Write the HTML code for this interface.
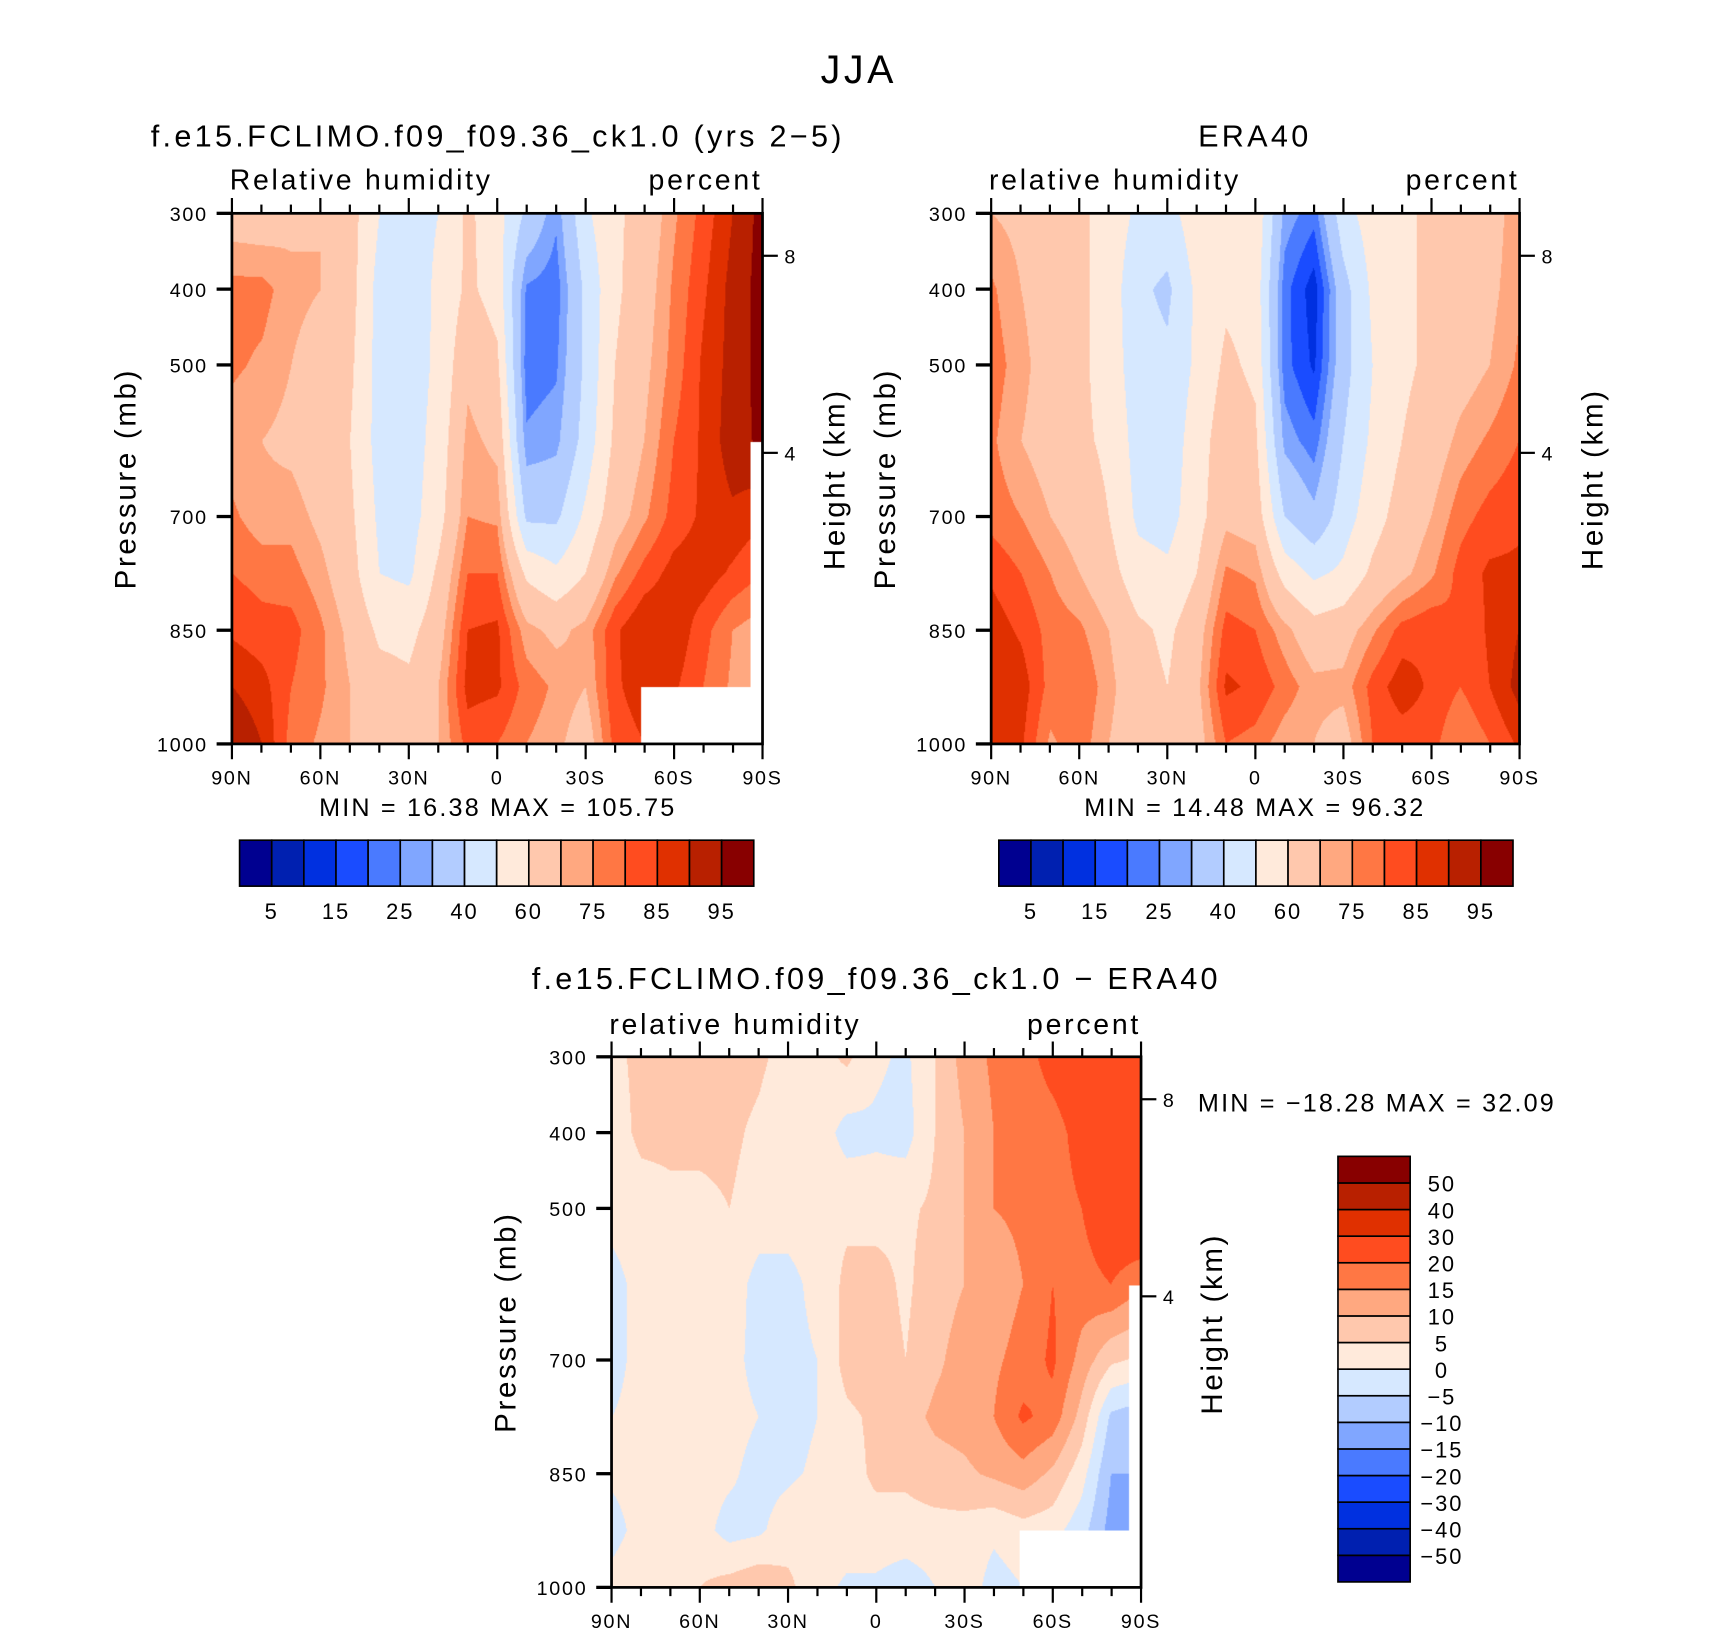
<!DOCTYPE html>
<html><head><meta charset="utf-8"><style>
body{margin:0;background:#fff;}
#root{position:relative;width:1710px;height:1631px;background:#fff;font-family:"Liberation Sans",sans-serif;overflow:hidden}
#inner{position:absolute;left:0;top:0;width:1563px;height:1491px;transform:scale(1.094);transform-origin:0 0}
canvas{position:absolute}
svg{position:absolute;left:0;top:0}
</style></head><body>
<div id="root">
<div id="inner">
<canvas id="c1" width="485" height="485" style="left:212px;top:195px"></canvas>
<canvas id="c2" width="483" height="485" style="left:906px;top:195px"></canvas>
<canvas id="c3" width="484" height="485" style="left:559px;top:966px"></canvas>
<svg id="s" width="1563" height="1491"></svg>
</div>
</div>
<script>
const lats=[90,80,70,60,50,40,30,20,10,0,-10,-20,-30,-40,-50,-60,-70,-80,-90];
const pres=[300,400,500,600,700,775,850,925,1000];
const rhModel=[
[66,65,68,70,64,50,46,50,62,54,38,26,48,58,64,74,82,90,97],
[77,77,72,70,64,46,44,52,62,56,24,22,42,58,66,76,84,92,97],
[76,74,70,66,62,46,45,52,68,62,22,24,42,60,68,77,86,92,97],
[72,70,68,64,60,46,45,54,72,68,26,28,44,62,70,80,86,93,96],
[76,72,73,68,62,48,46,56,75,74,38,38,52,66,74,82,86,89,86],
[80,78,77,72,64,50,48,62,80,80,58,52,60,74,82,87,88,84,80],
[84,82,82,76,68,58,57,66,85,86,72,68,72,84,90,89,82,75,72],
[90,87,80,76,70,64,62,70,87,86,78,74,70,84,88,86,80,74,70],
[95,90,78,74,70,68,67,70,82,80,75,72,65,82,85,84,78,72,68]];
const rhEra=[
[70,68,65,62,56,48,46,56,58,58,28,22,46,55,58,62,64,66,74],
[76,70,66,62,56,42,38,52,58,56,22,12,36,52,58,62,66,68,74],
[78,72,66,62,56,44,42,52,62,58,22,14,36,50,58,62,66,70,76],
[76,70,66,62,58,46,44,55,66,62,28,22,40,52,60,65,72,76,80],
[78,75,70,66,60,48,46,56,68,66,40,32,45,56,64,70,78,82,84],
[84,80,75,70,64,54,52,60,76,74,56,48,52,62,68,74,82,86,86],
[88,84,78,76,70,62,58,66,82,80,72,64,66,74,82,84,80,86,90],
[90,88,78,80,72,64,60,68,86,84,78,72,72,82,88,84,80,85,92],
[90,86,74,78,70,64,62,66,80,78,72,70,66,80,82,82,75,80,86]];
const rhDiff=[
[4,6,6,7,7,6,3,3,6,1,-1,5,12,16,18,22,24,28,30],
[3,6,6,6,6,4,1,3,-2,-1,-2,5,10,15,17,18,22,26,28],
[2,3,4,4,5,3,3,4,4,3,4,6,10,15,16,18,20,25,28],
[-2,2,2,2,3,-2,-2,2,6,7,4,8,10,12,15,20,18,20,16],
[-2,2,3,3,2,-2,-2,0,7,8,5,9,12,14,17,21,13,6,4],
[0,2,2,3,2,0,-2,0,4,6,8,11,12,15,21,18,8,-6,-8],
[1,2,4,2,1,-2,-1,1,3,6,6,8,9,11,13,9,2,-10,-10],
[-2,2,3,2,-2,-1,3,4,3,3,3,3,3,1,3,2,-3,-12,-12],
[2,4,3,5,7,9,6,2,-1,-1,-3,0,3,-2,0,0,-2,-5,-5]];
const levelsRH=[5,10,15,20,25,30,40,50,60,70,75,80,85,90,95];
const levelsDiff=[-50,-40,-30,-20,-15,-10,-5,0,5,10,15,20,30,40,50];
const labelsRH=["5","15","25","40","60","75","85","95"];
const labelsDiff=["50","40","30","20","15","10","5","0","\u22125","\u221210","\u221215","\u221220","\u221230","\u221240","\u221250"];
const latTicks=["90N","60N","30N","0","30S","60S","90S"];
const pTicks=[300,400,500,700,850,1000];
const hTicks=[{km:8,p:356},{km:4,p:616}];
const missing=[{lat0:-49,lat1:-90,p0:926},{lat0:-86,lat1:-90,p0:602}];
const colors=["#000090","#0020b0","#0030e0","#1a4cff","#4a7aff","#80a6ff","#b2ccff","#d6e8ff","#ffeadb","#ffc8ad","#ffa880","#ff7744","#ff4c1f","#e03000","#b82000","#880000"];
const rgb=colors.map(c=>[parseInt(c.substr(1,2),16),parseInt(c.substr(3,2),16),parseInt(c.substr(5,2),16)]);
function sample(g,lat,p){
  let fx=(90-lat)/10, i=Math.min(17,Math.floor(fx)), tx=fx-i;
  let j=0; while(j<pres.length-2&&p>pres[j+1])j++;
  let ty=(p-pres[j])/(pres[j+1]-pres[j]);
  return g[j][i]*(1-tx)*(1-ty)+g[j][i+1]*tx*(1-ty)+g[j+1][i]*(1-tx)*ty+g[j+1][i+1]*tx*ty;
}
function draw(id,g,lev,useMissing){
  const c=document.getElementById(id),ctx=c.getContext('2d'),W=c.width,H=c.height;
  const im=ctx.createImageData(W,H);
  for(let y=0;y<H;y++){const p=300+700*y/(H-1);
   for(let x=0;x<W;x++){const lat=90-180*x/(W-1);
    let v=sample(g,lat,p),k=0;while(k<lev.length&&v>=lev[k])k++;
    let miss=useMissing&&missing.some(m=>lat<=m.lat0&&p>=m.p0);
    const o=(y*W+x)*4,cc=miss?[255,255,255]:rgb[k];
    im.data[o]=cc[0];im.data[o+1]=cc[1];im.data[o+2]=cc[2];im.data[o+3]=255;}}
  ctx.putImageData(im,0,0);
}
draw('c1',rhModel,levelsRH,true);draw('c2',rhEra,levelsRH,false);draw('c3',rhDiff,levelsDiff,true);
const S=document.getElementById('s'),NS="http://www.w3.org/2000/svg";
function el(t,a,txt){const e=document.createElementNS(NS,t);for(const k in a)e.setAttribute(k,a[k]);if(txt!==undefined)e.textContent=txt;S.appendChild(e);return e;}
function txt(x,y,s,size,anchor,name,rot,ls){const a={x:x,y:y,'font-size':size,'text-anchor':anchor||'middle',fill:'#000','font-family':'Liberation Sans, sans-serif','letter-spacing':(ls===undefined?size*0.09:ls)};if(rot)a.transform='rotate(-90 '+x+' '+y+')';const e=el('text',a,s);e.setAttribute('xml:space','preserve');return e;}
function panel(x0,y0,W,H,tag){
  const X=lat=>x0+(90-lat)/180*W, Y=p=>y0+(p-300)/700*H;
  const r=el('rect',{x:x0,y:y0,width:W,height:H,fill:'none',stroke:'#000','stroke-width':2.5});
  
  for(let l=90;l>=-90;l-=10){const maj=l%30===0,len=maj?14:8;
    el('line',{x1:X(l),x2:X(l),y1:y0,y2:y0-len,stroke:'#000','stroke-width':2});
    el('line',{x1:X(l),x2:X(l),y1:y0+H,y2:y0+H+len,stroke:'#000','stroke-width':2});}
  latTicks.forEach((t,i)=>txt(X(90-30*i),y0+H+37,t,18,'middle',tag+'-lat-label'));
  pTicks.forEach(p=>el('line',{x1:x0,x2:x0-14,y1:Y(p),y2:Y(p),stroke:'#000','stroke-width':3}));
  pTicks.forEach(p=>txt(x0-22,Y(p)+7,String(p),18,'end',tag+'-pressure-label'));
  hTicks.forEach(h=>{el('line',{x1:x0+W,x2:x0+W+14,y1:Y(h.p),y2:Y(h.p),stroke:'#000','stroke-width':2});txt(x0+W+20,Y(h.p)+7,String(h.km),18,'start',tag+'-height-label');});
  txt(x0-88,y0+H/2,'Pressure (mb)',27,'middle',tag+'-y-axis-title',true);
}
function hbar(x0,y0,W,H,labels,tag){
  const bw=W/16;
  colors.forEach((c,i)=>{const r=el('rect',{x:x0+i*bw,y:y0,width:bw,height:H,fill:c,stroke:'#000','stroke-width':1.5});});
  labels.forEach((t,i)=>txt(x0+(2*i+1)*bw,y0+H+30,t,20,'middle',tag+'-colorbar-label'));
}
txt(785,76,'JJA',36,'middle','figure-title');
txt(455,134,'f.e15.FCLIMO.f09_f09.36_ck1.0 (yrs 2\u22125)',28,'middle','model-title',false,3);
txt(210,173,'Relative humidity',26,'start','model-variable-name',false,2.5);
txt(697,173,'percent',26,'end','model-units',false,2.5);
panel(212,195,485,485,'model');
txt(772,438,'Height (km)',27,'middle','model-height-title',true);
txt(455,746,'MIN =   16.38   MAX =  105.75',23,'middle','model-min-max',false,2);
hbar(219,768,470,42,labelsRH,'model');
txt(1147,134,'ERA40',28,'middle','era40-title',false,3);
txt(904,173,'relative humidity',26,'start','era40-variable-name',false,2.5);
txt(1389,173,'percent',26,'end','era40-units',false,2.5);
panel(906,195,483,485,'era40');
txt(1465,438,'Height (km)',27,'middle','era40-height-title',true);
txt(1147,746,'MIN =   14.48   MAX =   96.32',23,'middle','era40-min-max',false,2);
hbar(913,768,470,42,labelsRH,'era40');
txt(801,904,'f.e15.FCLIMO.f09_f09.36_ck1.0 \u2212 ERA40',28,'middle','difference-title',false,3);
txt(557,945,'relative humidity',26,'start','difference-variable-name',false,2.5);
txt(1043,945,'percent',26,'end','difference-units',false,2.5);
panel(559,966,484,485,'difference');
txt(1117,1210,'Height (km)',27,'middle','difference-height-title',true);
txt(1095,1016,'MIN = \u221218.28   MAX =   32.09',23,'start','difference-min-max',false,2);
const bx=1223,by=1057,bh=389/16;
colors.forEach((c,i)=>{const r=el('rect',{x:bx,y:by+(15-i)*bh,width:66,height:bh,fill:c,stroke:'#000','stroke-width':1.5});});
labelsDiff.forEach((t,i)=>txt(1318,by+(i+1)*bh+8,t,20,'middle','difference-colorbar-label'));
</script>
</body></html>
